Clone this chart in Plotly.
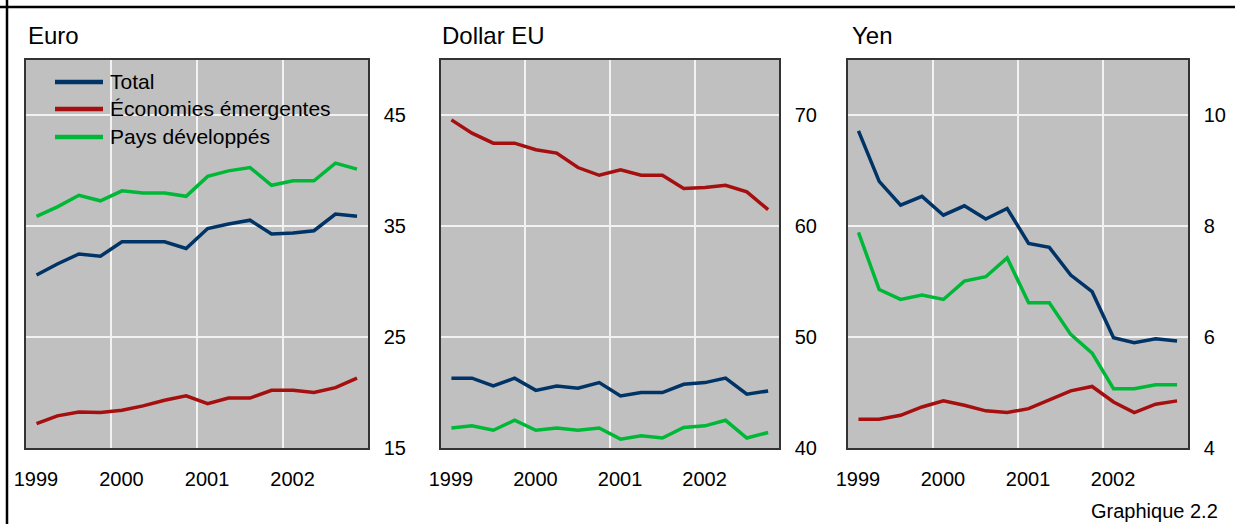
import plotly.graph_objects as go

W, H = 1235, 524

years = [1999, 2000, 2001, 2002]
quarters = [1, 2, 3, 4]
mid_month = {1: "02-15", 2: "05-15", 3: "08-15", 4: "11-15"}
periods = [f"{y}-{mid_month[q]}" for y in years for q in quarters]

series_names = ["Total", "Économies émergentes", "Pays développés"]
series_colors = ["#003366", "#a50f0f", "#00b838"]

euro_total = [30.6, 31.6, 32.5, 32.3, 33.6, 33.6, 33.6, 33.0, 34.8, 35.2, 35.55, 34.3, 34.4, 34.6, 36.1, 35.9]
euro_emerging = [17.2, 17.9, 18.25, 18.2, 18.4, 18.8, 19.3, 19.7, 19.0, 19.5, 19.5, 20.2, 20.2, 20.0, 20.45, 21.3]
euro_developed = [35.9, 36.75, 37.8, 37.3, 38.2, 38.0, 38.0, 37.7, 39.5, 40.0, 40.3, 38.7, 39.1, 39.1, 40.7, 40.15]

usd_total = [46.3, 46.3, 45.6, 46.3, 45.2, 45.6, 45.4, 45.9, 44.7, 45.0, 45.0, 45.75, 45.9, 46.3, 44.85, 45.15]
usd_emerging = [69.6, 68.4, 67.5, 67.5, 66.9, 66.6, 65.3, 64.6, 65.1, 64.6, 64.6, 63.4, 63.5, 63.7, 63.1, 61.5]
usd_developed = [41.8, 42.0, 41.6, 42.5, 41.6, 41.8, 41.6, 41.8, 40.8, 41.1, 40.9, 41.85, 42.0, 42.5, 40.9, 41.4]

yen_total = [9.72, 8.81, 8.38, 8.54, 8.20, 8.37, 8.13, 8.32, 7.69, 7.62, 7.12, 6.82, 5.99, 5.90, 5.97, 5.93]
yen_emerging = [4.52, 4.52, 4.59, 4.74, 4.85, 4.77, 4.67, 4.64, 4.71, 4.86, 5.03, 5.11, 4.83, 4.64, 4.79, 4.85]
yen_developed = [7.89, 6.86, 6.68, 6.76, 6.68, 7.01, 7.09, 7.43, 6.62, 6.62, 6.05, 5.71, 5.07, 5.07, 5.14, 5.14]

panel_titles = ["Euro", "Dollar EU", "Yen"]
panel_data = [
    [euro_total, euro_emerging, euro_developed],
    [usd_total, usd_emerging, usd_developed],
    [yen_total, yen_emerging, yen_developed],
]
y_ranges = [[15, 50], [40, 75], [4, 11]]
y_ticks = [[15, 25, 35, 45], [40, 50, 60, 70], [4, 6, 8, 10]]
x_ticklabels = [str(y) for y in years]

FONT = "Arial, 'Liberation Sans', Helvetica, sans-serif"
PLOT_BG = "#c0c0c0"

# pixel layout
x_dom_px = [(26, 368), (441, 779), (848, 1188)]
y_dom_px = (60, 448)
title_x_px = [26, 440, 850]


def px(x):
    return x / W


def py(y):
    return (H - y) / H


fig = go.Figure()

for i, (series, title) in enumerate(zip(panel_data, panel_titles)):
    ax = "" if i == 0 else str(i + 1)
    for name, vals, col in zip(series_names, series, series_colors):
        fig.add_trace(go.Scatter(
            x=periods, y=vals, mode="lines", name=name,
            line=dict(color=col, width=3.5),
            xaxis="x" + ax, yaxis="y" + ax,
            showlegend=False,
        ))
    x0, x1 = x_dom_px[i]
    xa = dict(
        domain=[px(x0), px(x1)],
        type="date",
        range=["1999-01-01", "2003-01-01"],
        tickvals=[f"{y}-01-01" for y in years],
        ticktext=x_ticklabels,
        ticklabelshift=10,
        ticklabelstandoff=12,
        showgrid=True, gridcolor="#f2f2f2", gridwidth=1.5,
        showline=True, linecolor="#333333", linewidth=1.5, mirror=True,
        ticks="", zeroline=False, automargin=False,
        tickfont=dict(family=FONT, size=20, color="#000"),
        anchor="y" + ax, fixedrange=True,
    )
    ya = dict(
        domain=[py(y_dom_px[1]), py(y_dom_px[0])],
        range=y_ranges[i],
        tickvals=y_ticks[i],
        side="right",
        ticklabelstandoff=10,
        showgrid=True, gridcolor="#f2f2f2", gridwidth=1.5,
        showline=True, linecolor="#333333", linewidth=1.5, mirror=True,
        ticks="", zeroline=False, automargin=False,
        tickfont=dict(family=FONT, size=20, color="#000"),
        anchor="x" + ax, fixedrange=True,
    )
    fig.update_layout({"xaxis" + ax: xa, "yaxis" + ax: ya})
    fig.add_annotation(
        text=title, xref="paper", yref="paper",
        x=px(title_x_px[i]), y=py(35),
        xanchor="left", yanchor="middle", showarrow=False,
        font=dict(family=FONT, size=24, color="#000"),
    )

# legend (drawn in the first panel)
fig.add_shape(type="rect", xref="paper", yref="paper", layer="between",
              x0=px(38), x1=px(355), y0=py(157), y1=py(65),
              fillcolor=PLOT_BG, line=dict(width=0))
legend_y_px = [82, 109, 137]
for name, col, ly in zip(series_names, series_colors, legend_y_px):
    fig.add_shape(type="line", xref="paper", yref="paper",
                  x0=px(55), x1=px(103), y0=py(ly), y1=py(ly),
                  line=dict(color=col, width=4.5))
    fig.add_annotation(text=name, xref="paper", yref="paper",
                       x=px(108), y=py(ly), xanchor="left", yanchor="middle",
                       showarrow=False,
                       font=dict(family=FONT, size=21, color="#000"))

fig.add_annotation(
    text="Graphique 2.2", xref="paper", yref="paper",
    x=px(1220), y=py(511), xanchor="right", yanchor="middle",
    showarrow=False, font=dict(family=FONT, size=20, color="#000"),
)

# outer frame lines (top and left)
fig.add_shape(type="line", xref="paper", yref="paper",
              x0=0, x1=1, y0=py(7), y1=py(7),
              line=dict(color="#000", width=2.5))
fig.add_shape(type="line", xref="paper", yref="paper",
              x0=px(7), x1=px(7), y0=0, y1=1,
              line=dict(color="#000", width=2.5))

fig.update_layout(
    width=W, height=H,
    margin=dict(l=0, r=0, t=0, b=0, autoexpand=False),
    paper_bgcolor="#ffffff",
    plot_bgcolor=PLOT_BG,
    showlegend=False,
    font=dict(family=FONT),
)

fig.write_html("out.html", config={"displayModeBar": False},
               post_script="document.body.style.margin='0px';")
